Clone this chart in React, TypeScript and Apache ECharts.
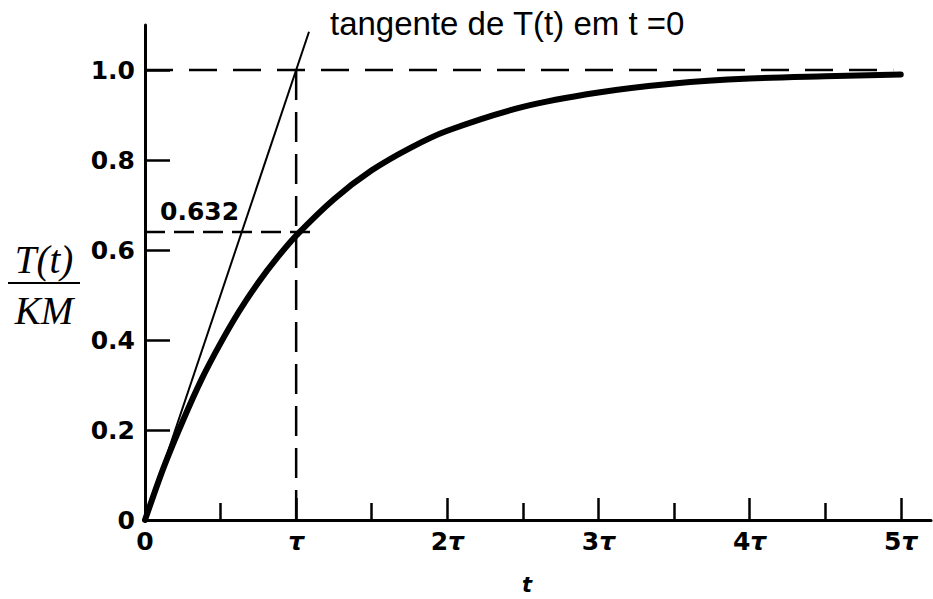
import React, { useEffect, useRef } from "react";
import * as echarts from "echarts";

// Step response (t in units of tau)
const tValues = [0, 0.125, 0.25, 0.375, 0.5, 0.625, 0.75, 0.875, 1, 1.25, 1.5, 1.75, 2, 2.5, 3, 3.5, 4, 4.5, 5];
const responseValues = [0, 0.118, 0.22, 0.313, 0.393, 0.465, 0.528, 0.583, 0.632, 0.713, 0.777, 0.826, 0.865, 0.918, 0.95, 0.97, 0.981, 0.986, 0.99];

// Tangent at t = 0
const tangentT = [0, 1.085];
const tangentY = [0, 1.085];

// Guide (dashed) lines
const finalLineT = [0, 4.95];
const finalLineY = [1.0, 1.0];
const tauLineT = [1, 1];
const tauLineY = [0, 1.0];
const markLineT = [0, 1.1];
const markLineY = [0.64, 0.64];
const markLabel = "0.632";

// Axes
const yTickValues = [0.2, 0.4, 0.6, 0.8, 1.0];
const yLabelValues = [0, 0.2, 0.4, 0.6, 0.8, 1.0];
const xMajorTicks = [1, 2, 3, 4, 5];
const xMinorTicks = [0.5, 1.5, 2.5, 3.5, 4.5];
const xLabelValues = [0, 1, 2, 3, 4, 5];
const xLabelPrefixes = ["0", "", "2", "3", "4", "5"];

const titleText = "tangente de T(t) em t =0";

const zip = (a: number[], b: number[]) => a.map((v, i) => [v, b[i]]);

export default function App() {
  const ref = useRef<HTMLDivElement>(null);
  useEffect(() => {
    if (!ref.current) return;
    const chart = echarts.init(ref.current, undefined, { renderer: "svg" });
    const labelFont = "DejaVu Sans";
    const dashedStyle = (dash: number[]) => ({
      color: "#000",
      width: 2.5,
      type: dash,
    });
    chart.setOption({
      animation: false,
      backgroundColor: "#fff",
      grid: {
        left: 145,
        top: 25,
        width: 786,
        height: 495,
        containLabel: false,
        outerBoundsMode: "none",
      },
      xAxis: [
        {
          type: "value",
          min: 0,
          max: 5.2,
          position: "bottom",
          axisLine: { show: true, onZero: false, lineStyle: { color: "#000", width: 3 } },
          splitLine: { show: false },
          axisTick: {
            show: true,
            inside: true,
            length: 22,
            customValues: xMajorTicks,
            lineStyle: { color: "#000", width: 2.5 },
          },
          axisLabel: {
            customValues: xLabelValues,
            margin: 9,
            formatter: (v: number) => {
              const i = xLabelValues.indexOf(Math.round(v * 1000) / 1000);
              if (i < 0) return "";
              if (i === 0) return "{n|0}";
              return (xLabelPrefixes[i] ? "{n|" + xLabelPrefixes[i] + "}" : "") + "{t|τ}";
            },
            rich: {
              n: { fontFamily: labelFont, fontWeight: "bold", fontSize: 25, color: "#000" },
              t: { fontFamily: labelFont, fontWeight: "bold", fontStyle: "italic", fontSize: 25, color: "#000" },
            },
          },
        },
        {
          type: "value",
          min: 0,
          max: 5.2,
          position: "bottom",
          offset: 0,
          axisLine: { show: false },
          splitLine: { show: false },
          axisLabel: { show: false },
          axisTick: {
            show: true,
            inside: true,
            length: 17,
            customValues: xMinorTicks,
            lineStyle: { color: "#000", width: 2.5 },
          },
        },
      ],
      yAxis: [
        {
          type: "value",
          min: 0,
          max: 1.1,
          axisLine: { show: true, onZero: false, lineStyle: { color: "#000", width: 3 } },
          splitLine: { show: false },
          axisTick: {
            show: true,
            inside: true,
            length: 25,
            customValues: yTickValues,
            lineStyle: { color: "#000", width: 2.5 },
          },
          axisLabel: {
            customValues: yLabelValues,
            margin: 10,
            fontFamily: labelFont,
            fontWeight: "bold",
            fontSize: 25,
            color: "#000",
            formatter: (v: number) => (v === 0 ? "0" : v.toFixed(1)),
          },
        },
      ],
      series: [
        {
          type: "line",
          data: zip(finalLineT, finalLineY),
          showSymbol: false,
          lineStyle: dashedStyle([28, 16]),
          silent: true,
        },
        {
          type: "line",
          data: zip(tauLineT, tauLineY),
          showSymbol: false,
          lineStyle: dashedStyle([30, 12]),
          silent: true,
        },
        {
          type: "line",
          data: zip(markLineT, markLineY),
          showSymbol: false,
          lineStyle: dashedStyle([20, 9]),
          silent: true,
        },
        {
          type: "line",
          data: zip(tangentT, tangentY),
          showSymbol: false,
          lineStyle: { color: "#000", width: 2 },
          silent: true,
        },
        {
          type: "line",
          data: zip(tValues, responseValues),
          showSymbol: false,
          smooth: 0.3,
          lineStyle: { color: "#000", width: 6, cap: "round", join: "round" },
          silent: true,
        },
      ],
      graphic: [
        {
          type: "text",
          left: 330,
          top: 7,
          style: {
            text: titleText,
            font: "33px 'Liberation Sans', Arial, sans-serif",
            fill: "#000",
          },
        },
        {
          type: "text",
          x: 160,
          y: 211,
          style: {
            text: markLabel,
            font: "bold 25px 'DejaVu Sans', sans-serif",
            fill: "#000",
            align: "left",
            verticalAlign: "middle",
          },
        },
        {
          type: "text",
          x: 44,
          y: 259,
          style: {
            text: "T(t)",
            font: "italic 39px 'Liberation Serif', 'Times New Roman', serif",
            fill: "#000",
            align: "center",
            verticalAlign: "middle",
          },
        },
        {
          type: "line",
          shape: { x1: 8, y1: 283, x2: 80, y2: 283 },
          style: { stroke: "#000", lineWidth: 2 },
        },
        {
          type: "text",
          x: 44,
          y: 310,
          style: {
            text: "KM",
            font: "italic 39px 'Liberation Serif', 'Times New Roman', serif",
            fill: "#000",
            align: "center",
            verticalAlign: "middle",
          },
        },
        {
          type: "text",
          x: 527,
          y: 585,
          style: {
            text: "t",
            font: "italic bold 21px 'DejaVu Sans', sans-serif",
            fill: "#000",
            align: "center",
            verticalAlign: "middle",
          },
        },
      ],
    });
    return () => chart.dispose();
  }, []);
  return (
    <div
      ref={ref}
      style={{ position: "fixed", left: 0, top: 0, width: 933, height: 599, background: "#fff" }}
    />
  );
}
